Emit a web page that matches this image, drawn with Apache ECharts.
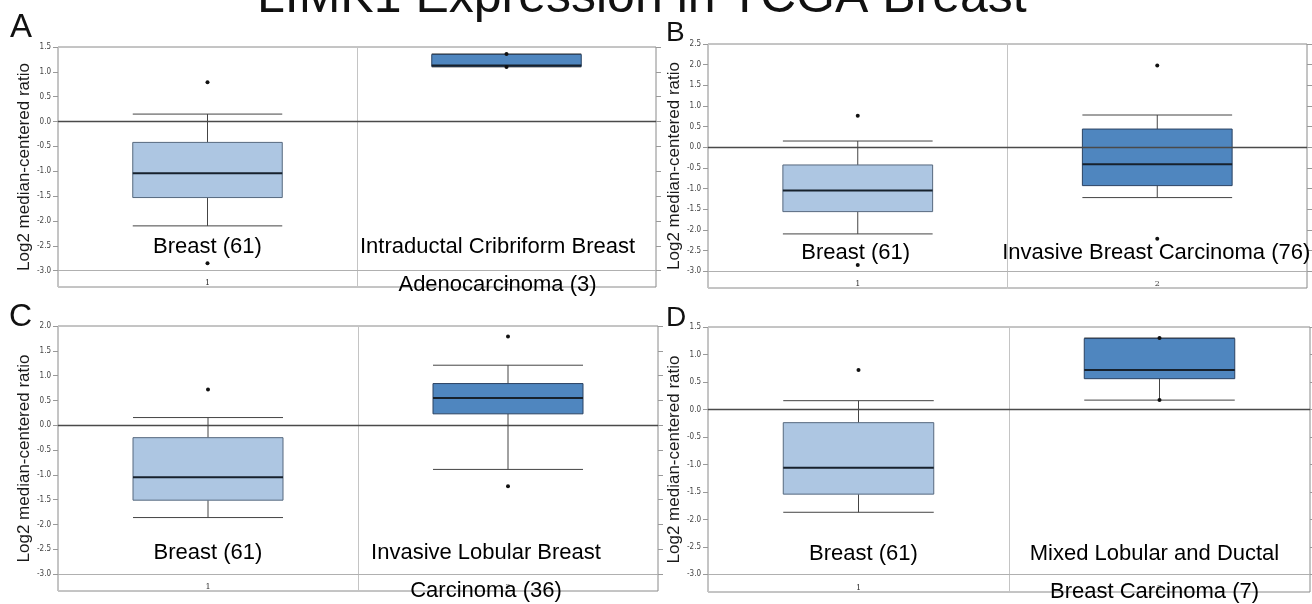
<!DOCTYPE html>
<html>
<head>
<meta charset="utf-8">
<script src="https://cdn.jsdelivr.net/npm/echarts@6/dist/echarts.min.js"></script>
<style>
  html, body { margin: 0; padding: 0; background: #fff; }
  #main { width: 1312px; height: 604px; }
</style>
</head>
<body>
<div id="main"></div>
<script type="text/javascript">
// ---- data ----
var categories = ['1', '2'];

// [low, q1, median, q3, high] for each category
var boxA = [[-2.10, -1.53, -1.04, -0.42, 0.15], [1.10, 1.11, 1.13, 1.35, 1.36]];
var boxB = [[-2.10, -1.56, -1.05, -0.43, 0.15], [-1.22, -0.93, -0.41, 0.44, 0.78]];
var boxC = [[-1.86, -1.51, -1.05, -0.25, 0.155], [-0.89, 0.23, 0.55, 0.84, 1.21]];
var boxD = [[-1.87, -1.54, -1.06, -0.24, 0.16], [0.17, 0.56, 0.72, 1.29, 1.30]];

// [category index, value]
var pointsA = [[0, 0.79], [0, -2.85], [1, 1.36], [1, 1.10]];
var pointsB = [[0, 0.76], [0, -2.85], [1, 1.98], [1, -2.22]];
var pointsC = [[0, 0.72], [1, 1.79], [1, -1.23]];
var pointsD = [[0, 0.72], [1, 1.30], [1, 0.17]];

var namesA = ['Breast (61)', 'Intraductal Cribriform Breast\nAdenocarcinoma (3)'];
var namesB = ['Breast (61)', 'Invasive Breast Carcinoma (76)'];
var namesC = ['Breast (61)', 'Invasive Lobular Breast\nCarcinoma (36)'];
var namesD = ['Breast (61)', 'Mixed Lobular and Ductal\nBreast Carcinoma (7)'];

var ticksA = [-3.0, -2.5, -2.0, -1.5, -1.0, -0.5, 0.0, 0.5, 1.0, 1.5];
var ticksB = [-3.0, -2.5, -2.0, -1.5, -1.0, -0.5, 0.0, 0.5, 1.0, 1.5, 2.0, 2.5];
var ticksC = [-3.0, -2.5, -2.0, -1.5, -1.0, -0.5, 0.0, 0.5, 1.0, 1.5, 2.0];
var ticksD = [-3.0, -2.5, -2.0, -1.5, -1.0, -0.5, 0.0, 0.5, 1.0, 1.5];

var yName = 'Log2 median-centered ratio';
var titleText = 'LIMK1 Expression in TCGA Breast';

// ---- chart ----
var myChart = echarts.init(document.getElementById('main'), null, { renderer: 'canvas' });
var FONT = 'Liberation Sans, Arial, Helvetica, sans-serif';

var panels = [
  { grid: { left: 58, top: 47, width: 598, height: 240 }, min: -3.33, max: 1.5, ticks: ticksA, box: boxA, pts: pointsA, names: namesA, labelY: -2.53, dx: [0, -9] },
  { grid: { left: 708, top: 44, width: 599, height: 244 }, min: -3.41, max: 2.5, ticks: ticksB, box: boxB, pts: pointsB, names: namesB, labelY: -2.55, dx: [-2, -1] },
  { grid: { left: 58, top: 326, width: 600, height: 265 }, min: -3.34, max: 2.0, ticks: ticksC, box: boxC, pts: pointsC, names: namesC, labelY: -2.58, dx: [0, -22] },
  { grid: { left: 708, top: 327, width: 602, height: 265 }, min: -3.32, max: 1.5, ticks: ticksD, box: boxD, pts: pointsD, names: namesD, labelY: -2.63, dx: [5, -5] }
];

function renderBox(params, api) {
  var c = api.value(0);
  var p = [1, 2, 3, 4, 5].map(function (k) { return api.coord([c, api.value(k)]); });
  var bw = api.size([1, 0])[0] * 0.5;
  var cx = p[0][0];
  var x0 = cx - bw / 2, x1 = cx + bw / 2;
  var yLow = p[0][1], yQ1 = p[1][1], yMed = p[2][1], yQ3 = p[3][1], yHigh = p[4][1];
  var fill = c === 0 ? '#adc6e2' : '#4f86bf';
  var edge = c === 0 ? '#56687e' : '#2a4262';
  var wl = { stroke: '#444', lineWidth: 1 };
  return {
    type: 'group',
    children: [
      { type: 'line', shape: { x1: cx, y1: yQ3, x2: cx, y2: yHigh }, style: wl },
      { type: 'line', shape: { x1: cx, y1: yQ1, x2: cx, y2: yLow }, style: wl },
      { type: 'line', shape: { x1: x0, y1: yHigh, x2: x1, y2: yHigh }, style: wl },
      { type: 'line', shape: { x1: x0, y1: yLow, x2: x1, y2: yLow }, style: wl },
      { type: 'rect', shape: { x: x0, y: yQ3, width: bw, height: yQ1 - yQ3 }, style: { fill: fill, stroke: edge, lineWidth: 1 } },
      { type: 'line', shape: { x1: x0, y1: yMed, x2: x1, y2: yMed }, style: { stroke: '#17212c', lineWidth: 2 } }
    ]
  };
}

var option = {
  animation: false,
  backgroundColor: '#fff',
  grid: [], xAxis: [], yAxis: [], series: [],
  graphic: [
    { type: 'text', x: 257, y: -2, style: { text: titleText, font: '50px ' + FONT, fill: '#111', verticalAlign: 'middle', align: 'left' } },
    { type: 'text', x: 10, y: 28, style: { text: 'A', font: '33px ' + FONT, fill: '#111', verticalAlign: 'middle' } },
    { type: 'text', x: 666, y: 33, style: { text: 'B', font: '28px ' + FONT, fill: '#111', verticalAlign: 'middle' } },
    { type: 'text', x: 9, y: 317, style: { text: 'C', font: '32px ' + FONT, fill: '#111', verticalAlign: 'middle' } },
    { type: 'text', x: 666, y: 318, style: { text: 'D', font: '28px ' + FONT, fill: '#111', verticalAlign: 'middle' } }
  ]
};

panels.forEach(function (pn, i) {
  option.grid.push(Object.assign({ show: true, borderColor: '#8a8a8a', borderWidth: 1, backgroundColor: '#fff' }, pn.grid));
  option.xAxis.push({
    type: 'category', gridIndex: i, data: categories, boundaryGap: true,
    axisLine: { show: false }, axisTick: { show: false },
    axisLabel: { inside: true, margin: 0, fontSize: 8, color: '#333', fontFamily: 'DejaVu Serif, serif' },
    splitLine: { show: true, lineStyle: { color: '#c4c4c4', width: 1 } }
  });
  option.yAxis.push({
    type: 'value', gridIndex: i, min: pn.min, max: pn.max, position: 'left',
    name: yName, nameLocation: 'middle', nameGap: 22,
    nameTextStyle: { fontSize: 17, color: '#1a1a1a', fontFamily: FONT },
    axisLine: { show: false },
    axisTick: { show: true, length: 5, customValues: pn.ticks, lineStyle: { color: '#999' } },
    axisLabel: { customValues: pn.ticks, margin: 7, fontSize: 8, color: '#444', fontFamily: 'DejaVu Sans Condensed, DejaVu Sans, sans-serif',
      formatter: function (v) { return v.toFixed(1); } },
    splitLine: { show: false }
  });
  option.yAxis.push({
    type: 'value', gridIndex: i, min: pn.min, max: pn.max, position: 'right',
    axisLine: { show: false },
    axisTick: { show: true, length: 5, customValues: pn.ticks, lineStyle: { color: '#999' } },
    axisLabel: { show: false },
    splitLine: { show: false }
  });

  option.series.push({
    type: 'custom', xAxisIndex: i, yAxisIndex: i * 2, z: 2,
    renderItem: renderBox,
    encode: { x: 0, y: [1, 2, 3, 4, 5] },
    data: pn.box.map(function (b, k) { return [k].concat(b); })
  });
  option.series.push({
    type: 'scatter', xAxisIndex: i, yAxisIndex: i * 2, z: 5,
    symbol: 'circle', symbolSize: 4,
    itemStyle: { color: '#111', opacity: 1 },
    data: pn.pts,
    markLine: {
      silent: true, symbol: 'none', label: { show: false },
      data: [
        { yAxis: 0, lineStyle: { color: '#4a4a4a', width: 1.3, type: 'solid' } },
        { yAxis: -3.0, lineStyle: { color: '#b0b0b0', width: 1, type: 'solid' } }
      ]
    }
  });
  option.series.push({
    type: 'scatter', xAxisIndex: i, yAxisIndex: i * 2, z: 6,
    symbolSize: 0, silent: true,
    itemStyle: { opacity: 1 },
    data: pn.names.map(function (n, k) { return { value: [k, pn.labelY], name: n }; }),
    label: {
      show: true, position: 'inside', verticalAlign: 'top',
      formatter: function (p) { return p.name; },
      fontSize: 22, lineHeight: 38, color: '#000', fontFamily: FONT,
      textBorderWidth: 0, textBorderColor: 'transparent'
    },
    labelLayout: function (params) {
      return { dx: pn.dx[params.dataIndex], dy: -19 };
    }
  });
});

myChart.setOption(option);
</script>
</body>
</html>
